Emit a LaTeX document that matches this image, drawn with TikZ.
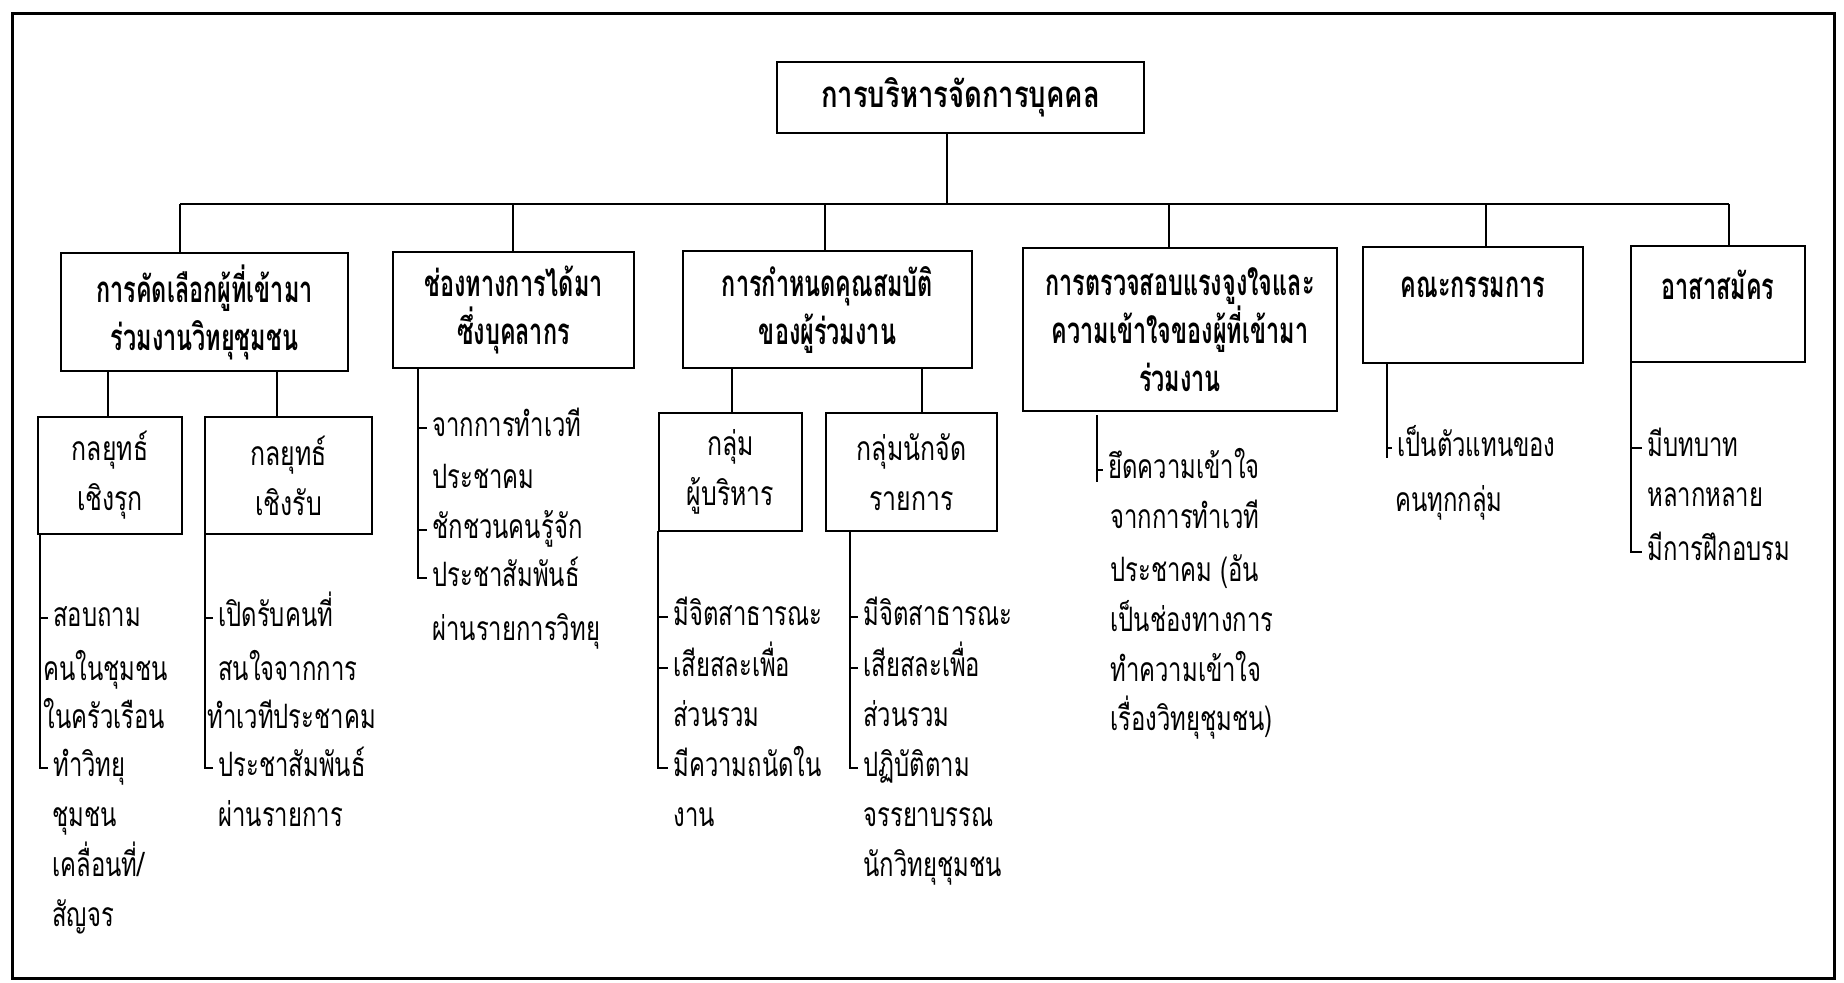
\documentclass[tikz,border=0pt]{standalone}
\usepackage{fontspec}
\newfontfamily\thaiN[Script=Thai,FakeStretch=0.71]{Loma}
\newfontfamily\thaiS[Script=Thai,FakeStretch=0.74]{Loma}
\newfontfamily\thaiB[Script=Thai,FakeStretch=0.64]{Loma}
\newfontfamily\thaiT[Script=Thai,FakeStretch=0.75]{Loma}
\begin{document}
\begin{tikzpicture}[x=0.5pt,y=-0.5pt,
  conn/.style={line width=1pt},
  hbox/.style={draw,line width=1.2pt,inner sep=0pt,align=center,
    font=\thaiB\bfseries\fontsize{18.3}{24}\selectfont},
  sbox/.style={draw,line width=1.2pt,inner sep=0pt,align=center,
    font=\thaiS\fontsize{16.8}{25}\selectfont},
  htext/.style={inner sep=0pt,font=\thaiB\bfseries\fontsize{18.3}{24}\selectfont},
  item/.style={anchor=west,inner sep=0pt,text height=8.3pt,text depth=0pt,
    font=\thaiN\fontsize{16.8}{25}\selectfont}]
\useasboundingbox (0,0) rectangle (1844,982);
\draw[line width=1.5pt] (12,13) rectangle (1834,978);

% top
\node[hbox,font=\thaiT\bfseries\fontsize{18.3}{24}\selectfont,minimum width=183.5pt,minimum height=35.5pt] (top) at (960.5,97.5) {การบริหารจัดการบุคคล};

% level 1
\node[hbox,minimum width=143.5pt,minimum height=59pt] (b1) at (204.5,312) {การคัดเลือกผู้ที่เข้ามา\\ร่วมงานวิทยุชุมชน};
\node[hbox,minimum width=120.5pt,minimum height=58pt] (b2) at (513.5,310) {ช่องทางการได้มา\\ซึ่งบุคลากร};
\node[hbox,minimum width=144.5pt,minimum height=58.5pt] (b3) at (827.5,309.5) {การกำหนดคุณสมบัติ\\ของผู้ร่วมงาน};
\node[hbox,minimum width=157pt,minimum height=81.5pt] (b4) at (1180,329.5) {การตรวจสอบแรงจูงใจและ\\ความเข้าใจของผู้ที่เข้ามา\\ร่วมงาน};
\node[hbox,minimum width=110pt,minimum height=58pt] (b5) at (1473,305) {};
\node[htext] (b5t) at (1473,287) {คณะกรรมการ};
\node[hbox,minimum width=87pt,minimum height=58pt] (b6) at (1718,304) {};
\node[htext] (b6t) at (1718,285) {อาสาสมัคร};

% level 2
\node[sbox,minimum width=72pt,minimum height=58.5pt] (c1) at (110,475.5) {กลยุทธ์\\เชิงรุก};
\node[sbox,minimum width=83.5pt,minimum height=58.5pt] (c2) at (288.5,475.5) {กลยุทธ์\\เชิงรับ};
\node[sbox,minimum width=71.5pt,minimum height=59pt] (c3) at (730.5,472) {กลุ่ม\\ผู้บริหาร};
\node[sbox,minimum width=85.5pt,minimum height=59pt] (c4) at (911.5,472) {กลุ่มนักจัด\\รายการ};

% tree connectors
\coordinate (jt) at (947,204);
\coordinate (j1) at (180,204);
\coordinate (j2) at (513,204);
\coordinate (j3) at (825,204);
\coordinate (j4) at (1169,204);
\coordinate (j5) at (1486,204);
\coordinate (j6) at (1729,204);
\draw[conn] (jt |- top.south) -- (jt);
\draw[conn] (j1) -- (j6);
\draw[conn] (j1) -- (j1 |- b1.north);
\draw[conn] (j2) -- (j2 |- b2.north);
\draw[conn] (j3) -- (j3 |- b3.north);
\draw[conn] (j4) -- (j4 |- b4.north);
\draw[conn] (j5) -- (j5 |- b5.north);
\draw[conn] (j6) -- (j6 |- b6.north);
\draw[conn] ([xshift=-1pt]c1.north |- b1.south) -- ([xshift=-1pt]c1.north);
\draw[conn] ([xshift=-5.75pt]c2.north |- b1.south) -- ([xshift=-5.75pt]c2.north);
\draw[conn] ([xshift=0.75pt]c3.north |- b3.south) -- ([xshift=0.75pt]c3.north);
\draw[conn] ([xshift=5.25pt]c4.north |- b3.south) -- ([xshift=5.25pt]c4.north);

% list under c1
\node[item] (c1i1) at (53,618) {สอบถาม};
\node[item] (c1i2) at (43,672) {คนในชุมชน};
\node[item] (c1i3) at (43,720) {ในครัวเรือน};
\node[item] (c1i4) at (53,768) {ทำวิทยุ};
\node[item] (c1i5) at (52,818) {ชุมชน};
\node[item] (c1i6) at (52,868) {เคลื่อนที่/};
\node[item] (c1i7) at (52,918) {สัญจร};
\coordinate (c1x) at (40,534);
\draw[conn] (c1x) -- (c1x |- c1i4.west) -- ([xshift=-2.5pt]c1i4.west);
\draw[conn] (c1x |- c1i1.west) -- ([xshift=-2.5pt]c1i1.west);

% list under c2
\node[item] (c2i1) at (218,618) {เปิดรับคนที่};
\node[item] (c2i2) at (218,672) {สนใจจากการ};
\node[item] (c2i3) at (207,720) {ทำเวทีประชาคม};
\node[item] (c2i4) at (218,768) {ประชาสัมพันธ์};
\node[item] (c2i5) at (218,818) {ผ่านรายการ};
\coordinate (c2x) at (205,534);
\draw[conn] (c2x) -- (c2x |- c2i4.west) -- ([xshift=-2.5pt]c2i4.west);
\draw[conn] (c2x |- c2i1.west) -- ([xshift=-2.5pt]c2i1.west);

% list under b2
\node[item] (b2i1) at (432,428) {จากการทำเวที};
\node[item] (b2i2) at (432,480) {ประชาคม};
\node[item] (b2i3) at (432,530) {ชักชวนคนรู้จัก};
\node[item] (b2i4) at (432,578) {ประชาสัมพันธ์};
\node[item] (b2i5) at (432,632) {ผ่านรายการวิทยุ};
\coordinate (b2x) at (418,369);
\draw[conn] (b2x) -- (b2x |- b2i4.west) -- ([xshift=-2.5pt]b2i4.west);
\draw[conn] (b2x |- b2i1.west) -- ([xshift=-2.5pt]b2i1.west);
\draw[conn] (b2x |- b2i3.west) -- ([xshift=-2.5pt]b2i3.west);

% list under c3
\node[item] (c3i1) at (673,617) {มีจิตสาธารณะ};
\node[item] (c3i2) at (673,668) {เสียสละเพื่อ};
\node[item] (c3i3) at (673,718) {ส่วนรวม};
\node[item] (c3i4) at (673,768) {มีความถนัดใน};
\node[item] (c3i5) at (673,818) {งาน};
\coordinate (c3x) at (658,531);
\draw[conn] (c3x) -- (c3x |- c3i4.west) -- ([xshift=-2.5pt]c3i4.west);
\draw[conn] (c3x |- c3i1.west) -- ([xshift=-2.5pt]c3i1.west);
\draw[conn] (c3x |- c3i2.west) -- ([xshift=-2.5pt]c3i2.west);

% list under c4
\node[item] (c4i1) at (863,617) {มีจิตสาธารณะ};
\node[item] (c4i2) at (863,668) {เสียสละเพื่อ};
\node[item] (c4i3) at (863,718) {ส่วนรวม};
\node[item] (c4i4) at (863,768) {ปฏิบัติตาม};
\node[item] (c4i5) at (863,818) {จรรยาบรรณ};
\node[item] (c4i6) at (863,868) {นักวิทยุชุมชน};
\coordinate (c4x) at (850,531);
\draw[conn] (c4x) -- (c4x |- c4i4.west) -- ([xshift=-2.5pt]c4i4.west);
\draw[conn] (c4x |- c4i1.west) -- ([xshift=-2.5pt]c4i1.west);
\draw[conn] (c4x |- c4i2.west) -- ([xshift=-2.5pt]c4i2.west);

% list under b4
\node[item] (b4i1) at (1108,470) {ยึดความเข้าใจ};
\node[item] (b4i2) at (1110,520) {จากการทำเวที};
\node[item] (b4i3) at (1110,573) {ประชาคม (อัน};
\node[item] (b4i4) at (1110,623) {เป็นช่องทางการ};
\node[item] (b4i5) at (1110,673) {ทำความเข้าใจ};
\node[item] (b4i6) at (1110,722) {เรื่องวิทยุชุมชน)};
\coordinate (b4x) at (1097,415);
\draw[conn] (b4x) -- ([yshift=-6pt]b4x |- b4i1.west);
\draw[conn] (b4x |- b4i1.west) -- ([xshift=-2.5pt]b4i1.west);

% list under b5
\node[item] (b5i1) at (1397,448) {เป็นตัวแทนของ};
\node[item] (b5i2) at (1395,503) {คนทุกกลุ่ม};
\coordinate (b5x) at (1387,363);
\draw[conn] (b5x) -- ([yshift=-5pt]b5x |- b5i1.west);
\draw[conn] (b5x |- b5i1.west) -- ([xshift=-2.5pt]b5i1.west);

% list under b6
\node[item] (b6i1) at (1647,448) {มีบทบาท};
\node[item] (b6i2) at (1647,498) {หลากหลาย};
\node[item] (b6i3) at (1647,552) {มีการฝึกอบรม};
\coordinate (b6x) at (1631,362);
\draw[conn] (b6x) -- (b6x |- b6i3.west) -- ([xshift=-2.5pt]b6i3.west);
\draw[conn] (b6x |- b6i1.west) -- ([xshift=-2.5pt]b6i1.west);
\end{tikzpicture}
\end{document}
